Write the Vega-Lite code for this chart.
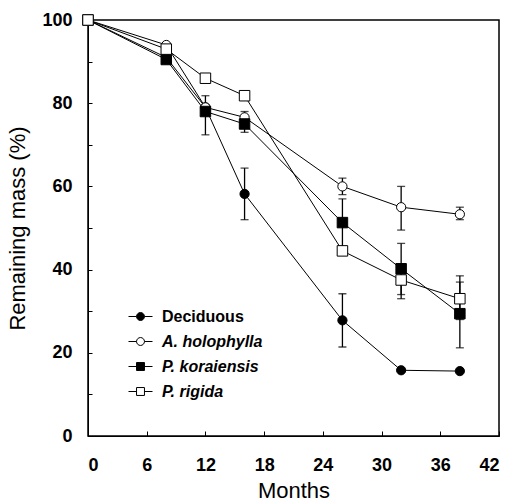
{
  "$schema": "https://vega.github.io/schema/vega-lite/v6.json",
  "width": 411,
  "height": 416,
  "autosize": "none",
  "padding": {"left": 88, "top": 20, "right": 13, "bottom": 68},
  "background": "white",
  "config": {
    "view": {"stroke": "black", "strokeWidth": 1.5},
    "font": "Liberation Sans",
    "axis": {
      "grid": false,
      "domainColor": "black",
      "tickColor": "black",
      "labelColor": "black",
      "titleColor": "black",
      "labelFont": "Liberation Sans",
      "labelFontWeight": "bold",
      "labelFontSize": 18,
      "titleFont": "Liberation Sans",
      "titleFontSize": 22,
      "titleFontWeight": "normal"
    },
    "legend": {
      "labelFont": "Liberation Sans",
      "labelFontWeight": "bold",
      "labelFontSize": 16,
      "labelColor": "black"
    }
  },
  "data": {
    "values": [
      {"series": "Deciduous", "month": 0, "mass": 100},
      {"series": "Deciduous", "month": 8, "mass": 91},
      {"series": "Deciduous", "month": 12, "mass": 79},
      {"series": "Deciduous", "month": 16, "mass": 58.2, "lo": 52, "hi": 64.4},
      {"series": "Deciduous", "month": 26, "mass": 27.8, "lo": 21.4, "hi": 34.2},
      {"series": "Deciduous", "month": 32, "mass": 15.8},
      {"series": "Deciduous", "month": 38, "mass": 15.6},
      {"series": "A. holophylla", "month": 0, "mass": 100},
      {"series": "A. holophylla", "month": 8, "mass": 94},
      {"series": "A. holophylla", "month": 12, "mass": 79},
      {"series": "A. holophylla", "month": 16, "mass": 76.6, "lo": 74.5, "hi": 78},
      {"series": "A. holophylla", "month": 26, "mass": 60, "lo": 58, "hi": 62},
      {"series": "A. holophylla", "month": 32, "mass": 55, "lo": 49.5, "hi": 60},
      {"series": "A. holophylla", "month": 38, "mass": 53.3, "lo": 52, "hi": 55},
      {"series": "P. koraiensis", "month": 0, "mass": 100},
      {"series": "P. koraiensis", "month": 8, "mass": 90.5},
      {"series": "P. koraiensis", "month": 12, "mass": 78, "lo": 72.4, "hi": 81.8},
      {"series": "P. koraiensis", "month": 16, "mass": 75, "lo": 73, "hi": 77},
      {"series": "P. koraiensis", "month": 26, "mass": 51.3, "lo": 45, "hi": 57},
      {"series": "P. koraiensis", "month": 32, "mass": 40.2, "lo": 33, "hi": 46.3},
      {"series": "P. koraiensis", "month": 38, "mass": 29.4, "lo": 21.2, "hi": 37},
      {"series": "P. rigida", "month": 0, "mass": 100},
      {"series": "P. rigida", "month": 8, "mass": 93},
      {"series": "P. rigida", "month": 12, "mass": 86},
      {"series": "P. rigida", "month": 16, "mass": 81.8},
      {"series": "P. rigida", "month": 26, "mass": 44.5},
      {"series": "P. rigida", "month": 32, "mass": 37.5, "lo": 34, "hi": 41},
      {"series": "P. rigida", "month": 38, "mass": 33, "lo": 28, "hi": 38.5}
    ]
  },
  "encoding": {
    "x": {
      "field": "month", "type": "quantitative",
      "scale": {"domain": [0, 42]},
      "axis": {"values": [0, 6, 12, 18, 24, 30, 36, 42], "tickSize": -5, "labelPadding": 25, "title": "Months", "titlePadding": 6}
    },
    "y": {
      "field": "mass", "type": "quantitative",
      "scale": {"domain": [0, 100]},
      "axis": {"values": [0, 10, 20, 30, 40, 50, 60, 70, 80, 90, 100], "labelExpr": "datum.value % 20 === 0 ? datum.label : ''", "tickSize": -4, "labelPadding": 20, "title": "Remaining mass (%)", "titlePadding": 12}
    }
  },
  "layer": [
    {
      "mark": {"type": "line", "color": "black", "strokeWidth": 1},
      "encoding": {"detail": {"field": "series"}}
    },
    {
      "transform": [{"filter": "isValid(datum.lo)"}],
      "mark": {"type": "rule", "color": "black", "strokeWidth": 1.3},
      "encoding": {"y": {"field": "lo", "type": "quantitative"}, "y2": {"field": "hi"}}
    },
    {
      "transform": [{"filter": "isValid(datum.lo)"}],
      "mark": {"type": "tick", "orient": "horizontal", "color": "black", "size": 8, "thickness": 1.3},
      "encoding": {"y": {"field": "lo", "type": "quantitative"}}
    },
    {
      "transform": [{"filter": "isValid(datum.hi)"}],
      "mark": {"type": "tick", "orient": "horizontal", "color": "black", "size": 8, "thickness": 1.3},
      "encoding": {"y": {"field": "hi", "type": "quantitative"}}
    },
    {
      "transform": [{"filter": "datum.series === 'Deciduous'"}],
      "mark": {"type": "point", "shape": "circle", "filled": true, "fill": "black", "stroke": "black", "strokeWidth": 1, "size": 85, "opacity": 1}
    },
    {
      "transform": [{"filter": "datum.series === 'A. holophylla'"}],
      "mark": {"type": "point", "shape": "circle", "filled": true, "fill": "white", "stroke": "black", "strokeWidth": 1, "size": 85, "opacity": 1}
    },
    {
      "transform": [{"filter": "datum.series === 'P. koraiensis'"}],
      "mark": {"type": "point", "shape": "square", "filled": true, "fill": "black", "stroke": "black", "strokeWidth": 1, "size": 110, "opacity": 1}
    },
    {
      "transform": [{"filter": "datum.series === 'P. rigida'"}],
      "mark": {"type": "point", "shape": "square", "filled": true, "fill": "white", "stroke": "black", "strokeWidth": 1, "size": 110, "opacity": 1}
    },
    {
      "transform": [{"filter": "datum.month < 0"}],
      "mark": {"type": "point", "filled": true, "stroke": "black", "strokeWidth": 1, "opacity": 1},
      "encoding": {
        "fill": {"field": "series", "type": "nominal", "scale": {"domain": ["Deciduous", "A. holophylla", "P. koraiensis", "P. rigida"], "range": ["black", "white", "black", "white"]}, "legend": {"title": null, "orient": "none", "legendX": 40, "legendY": 284, "padding": 0, "rowPadding": 4, "symbolSize": 576, "symbolStrokeWidth": 1, "labelOffset": 9, "labelFontStyle": {"expr": "datum.label === 'Deciduous' ? 'normal' : 'italic'"}}},
        "shape": {"field": "series", "type": "nominal", "scale": {"domain": ["Deciduous", "A. holophylla", "P. koraiensis", "P. rigida"], "range": [
          "M-1,0H-0.33M0.33,0H1M0.33,0A0.33,0.33 0 1 1 -0.33,0A0.33,0.33 0 1 1 0.33,0Z",
          "M-1,0H-0.33M0.33,0H1M0.33,0A0.33,0.33 0 1 1 -0.33,0A0.33,0.33 0 1 1 0.33,0Z",
          "M-1,0H-0.33M0.33,0H1M-0.33,-0.33H0.33V0.33H-0.33Z",
          "M-1,0H-0.33M0.33,0H1M-0.33,-0.33H0.33V0.33H-0.33Z"
        ]}, "legend": {"title": null, "orient": "none", "legendX": 40, "legendY": 284, "padding": 0, "rowPadding": 4, "symbolSize": 576, "symbolStrokeWidth": 1, "labelOffset": 9, "labelFontStyle": {"expr": "datum.label === 'Deciduous' ? 'normal' : 'italic'"}}}
      }
    }
  ]
}
